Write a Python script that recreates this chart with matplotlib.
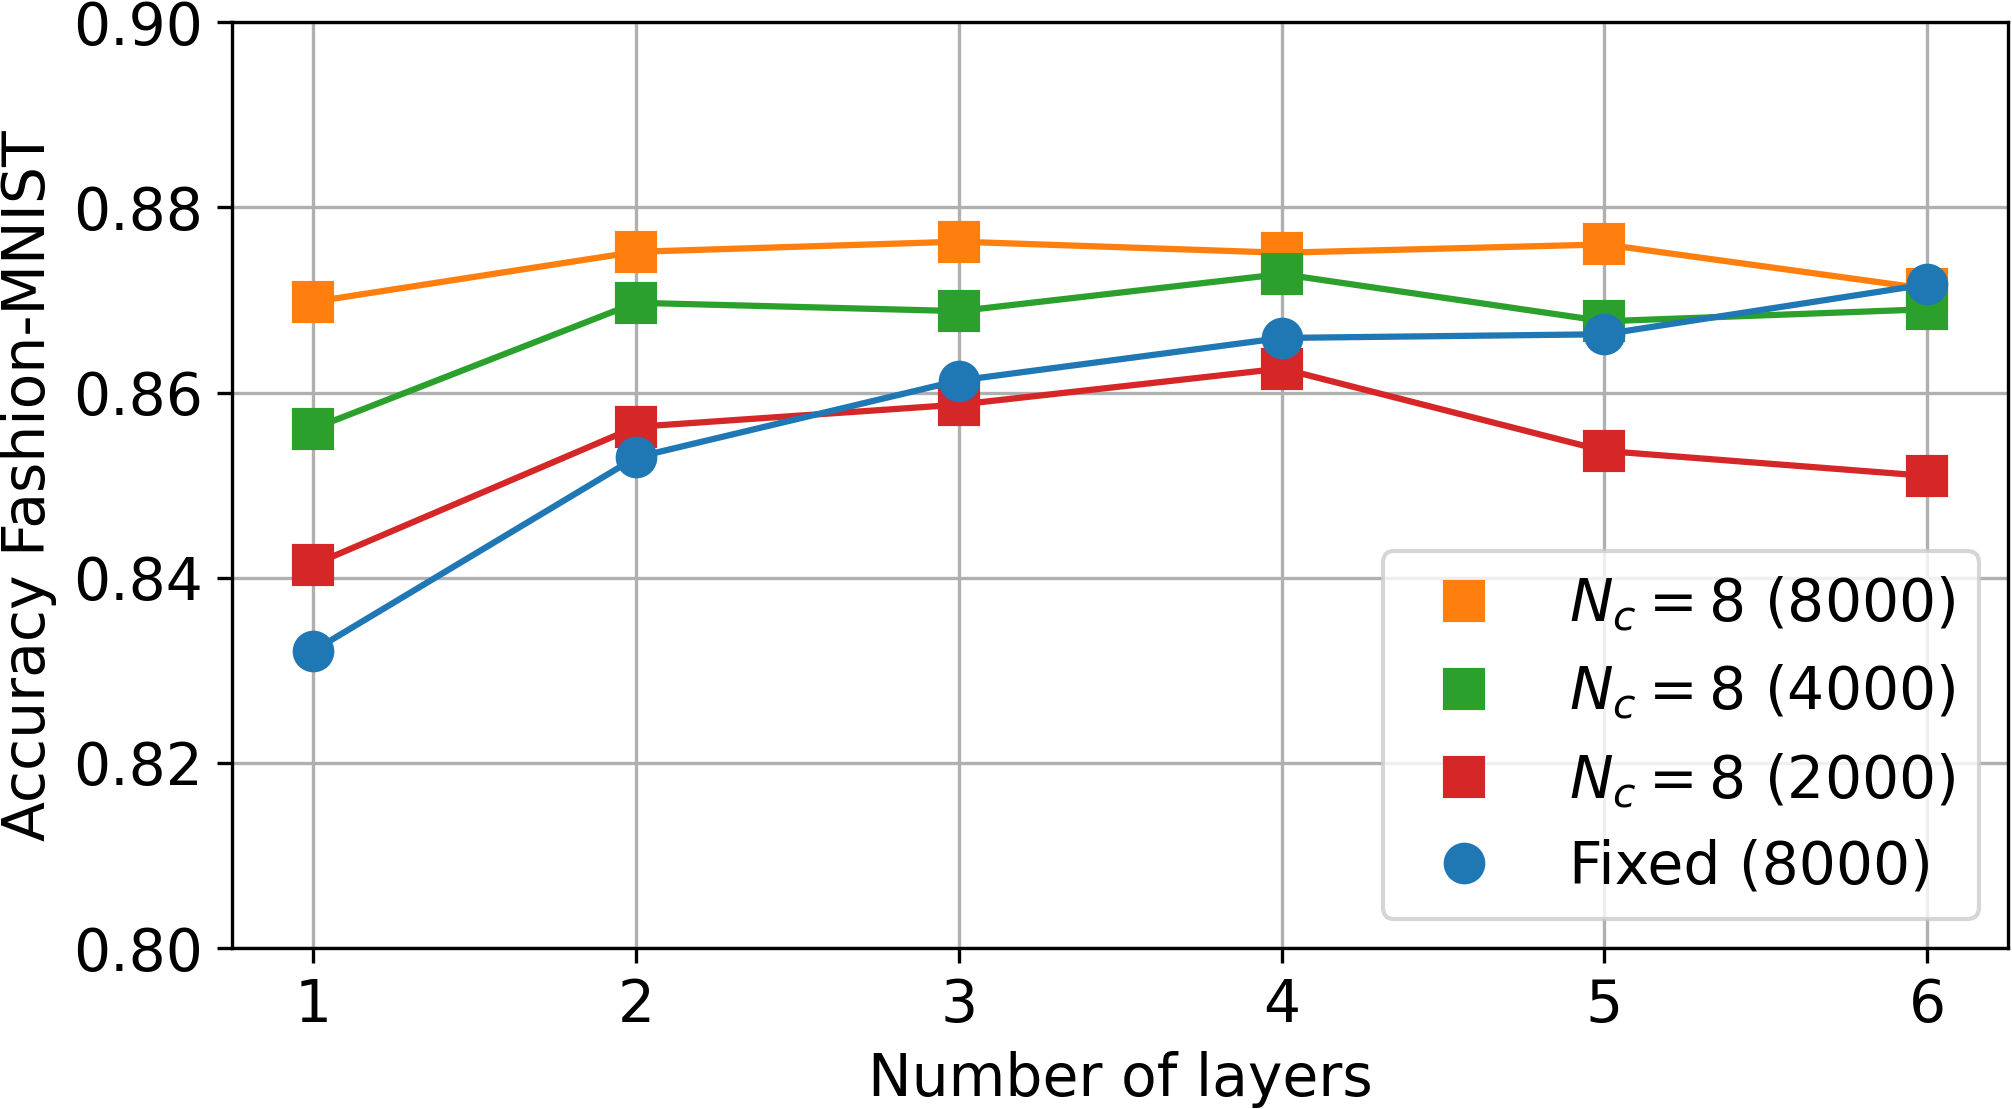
import matplotlib.pyplot as plt
from matplotlib.lines import Line2D

# number of layers
layers = [1, 2, 3, 4, 5, 6]

# accuracy on Fashion-MNIST
acc_nc8_8000 = [0.8698, 0.8752, 0.8763, 0.8751, 0.8760, 0.8712]
acc_nc8_4000 = [0.8561, 0.8697, 0.8688, 0.8728, 0.8677, 0.8690]
acc_nc8_2000 = [0.8414, 0.8563, 0.8587, 0.8626, 0.8537, 0.8510]
acc_fixed_8000 = [0.8321, 0.8530, 0.8613, 0.8659, 0.8663, 0.8717]

labels = [r"$N_c = 8$ (8000)", r"$N_c = 8$ (4000)", r"$N_c = 8$ (2000)", "Fixed (8000)"]
yticks = [0.80, 0.82, 0.84, 0.86, 0.88, 0.90]

plt.rcParams['font.size'] = 14

fig, ax = plt.subplots(figsize=(2012/300, 1109/300), dpi=300)
fig.subplots_adjust(left=0.1155, right=0.998, top=0.980, bottom=0.145)

series = [(acc_nc8_8000, "tab:orange", "s"),
          (acc_nc8_4000, "tab:green", "s"),
          (acc_nc8_2000, "tab:red", "s"),
          (acc_fixed_8000, "tab:blue", "o")]

handles = []
for (vals, col, mk), lab in zip(series, labels):
    ax.plot(layers, vals, color=col, marker=mk, markersize=9, lw=1.5)
    handles.append(Line2D([], [], color=col, marker=mk, markersize=9, ls="none", label=lab))

ax.set_ylim(0.80, 0.90)
ax.set_yticks(yticks)
ax.set_xticks(layers)
ax.grid(True)
ax.set_xlabel("Number of layers")
ax.set_ylabel("Accuracy Fashion-MNIST")
ax.legend(handles=handles, loc="lower right")

fig.savefig("out.png", dpi=300)
